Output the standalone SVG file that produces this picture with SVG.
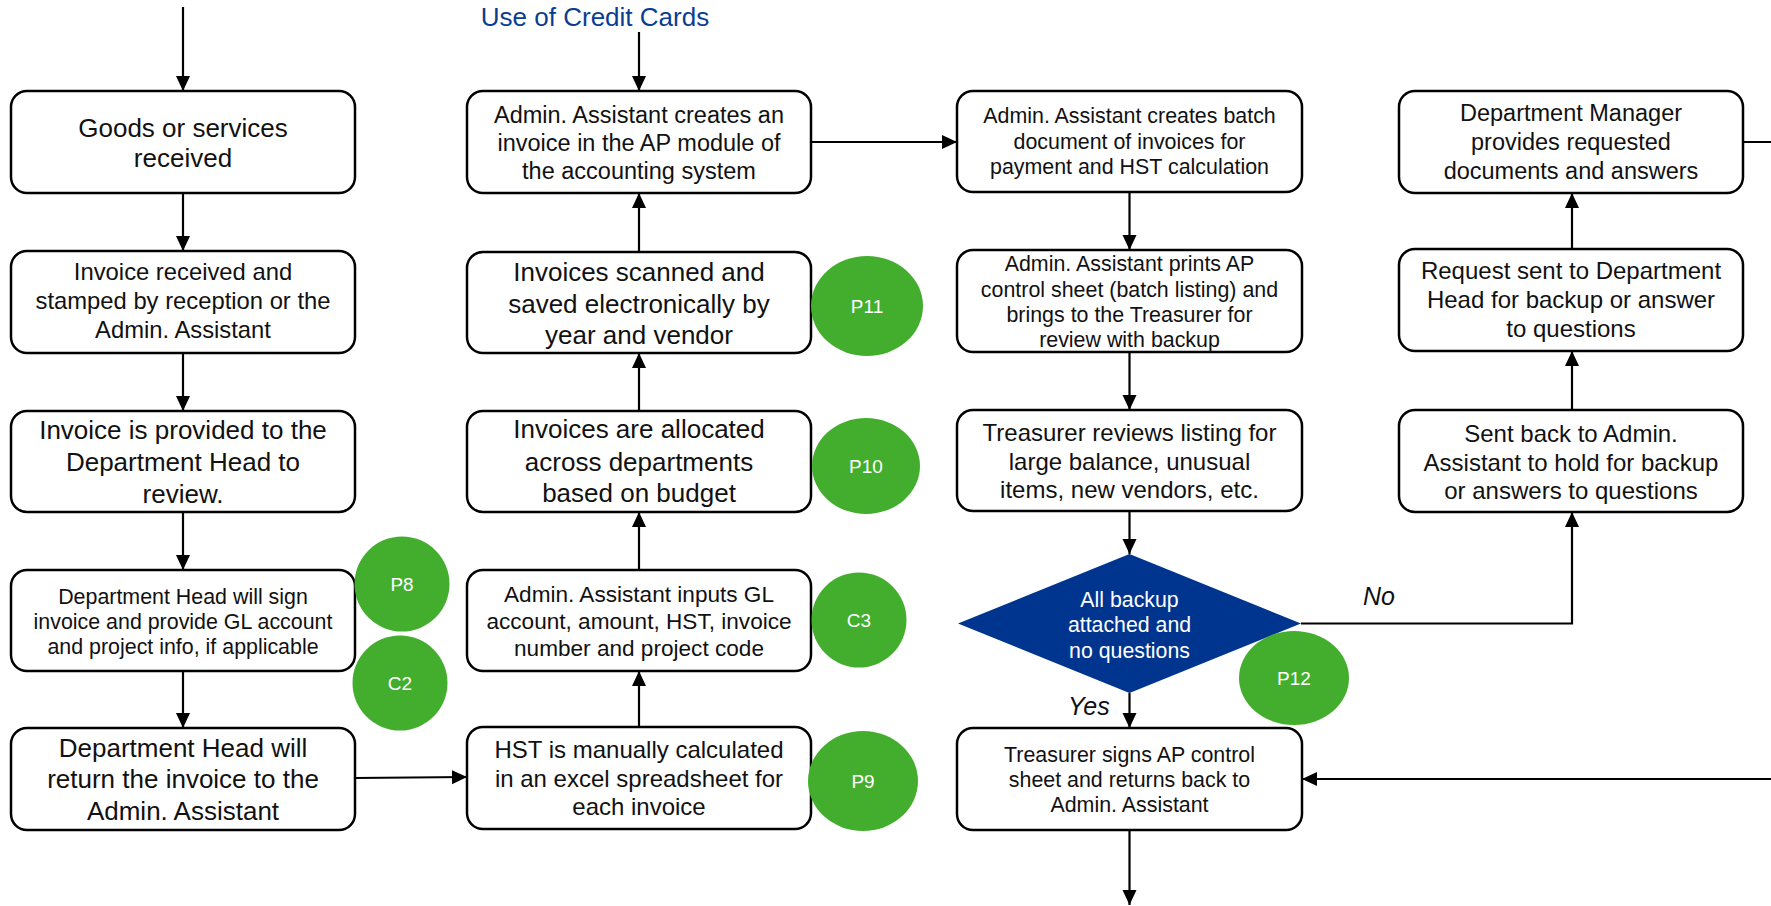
<svg xmlns="http://www.w3.org/2000/svg" width="1771" height="906" viewBox="0 0 1771 906">
  <style>
    .box { fill: #ffffff; stroke: #000000; stroke-width: 2.5; }
    .lbl { font-family: "Liberation Sans", Arial, sans-serif; fill: #111111; text-anchor: middle; }
    .tag { fill: #43ae2e; }
    .tagtxt { font-family: "Liberation Sans", Arial, sans-serif; fill: #ffffff; font-size: 19px; text-anchor: middle; }
    .edge { fill: none; stroke: #000000; stroke-width: 2.2; }
    .note { font-family: "Liberation Sans", Arial, sans-serif; font-style: italic; font-size: 25px; fill: #111111; }
  </style>
  <defs>
    <marker id="arrow" markerUnits="userSpaceOnUse" markerWidth="16" markerHeight="16" refX="15" refY="7" orient="auto">
      <path d="M0,0 L15,7 L0,14 Z" fill="#000000"/>
    </marker>
  </defs>

  <rect width="1771" height="906" fill="#ffffff"/>

  <text x="595" y="26" font-family="Liberation Sans, Arial, sans-serif" font-size="26" fill="#0a3d91" text-anchor="middle">Use of Credit Cards</text>

  <!-- connectors -->
  <g id="connectors">
    <path class="edge" d="M183,7 V91" marker-end="url(#arrow)"/>
    <path class="edge" d="M183,193 V251" marker-end="url(#arrow)"/>
    <path class="edge" d="M183,353 V411" marker-end="url(#arrow)"/>
    <path class="edge" d="M183,512 V570" marker-end="url(#arrow)"/>
    <path class="edge" d="M183,671 V728" marker-end="url(#arrow)"/>
    <path class="edge" d="M355,778 L467,777" marker-end="url(#arrow)"/>
    <path class="edge" d="M639,727 V671" marker-end="url(#arrow)"/>
    <path class="edge" d="M639,570 V512" marker-end="url(#arrow)"/>
    <path class="edge" d="M639,411 V353" marker-end="url(#arrow)"/>
    <path class="edge" d="M639,252 V193" marker-end="url(#arrow)"/>
    <path class="edge" d="M639,32 V91" marker-end="url(#arrow)"/>
    <path class="edge" d="M811,142 H957" marker-end="url(#arrow)"/>
    <path class="edge" d="M1129.5,192 V250" marker-end="url(#arrow)"/>
    <path class="edge" d="M1129.5,352 V410" marker-end="url(#arrow)"/>
    <path class="edge" d="M1129.5,511 V554" marker-end="url(#arrow)"/>
    <path class="edge" d="M1129.5,693 V728" marker-end="url(#arrow)"/>
    <path class="edge" d="M1129.5,830 V905" marker-end="url(#arrow)"/>
    <path class="edge" d="M1301,623.5 H1572 V512" marker-end="url(#arrow)"/>
    <path class="edge" d="M1572,410 V351" marker-end="url(#arrow)"/>
    <path class="edge" d="M1572,249 V193" marker-end="url(#arrow)"/>
    <path class="edge" d="M1743,142 H1780 V779 H1302" marker-end="url(#arrow)"/>
    <text class="note" x="1363" y="605">No</text>
    <text class="note" x="1068" y="715">Yes</text>
  </g>

  <!-- column 1 -->
  <g id="goods-received">
    <rect class="box" x="11" y="91" width="344" height="102" rx="16"/>
    <text class="lbl" font-size="26"><tspan x="183" y="137">Goods or services</tspan><tspan x="183" y="167">received</tspan></text>
  </g>
  <g id="invoice-stamped">
    <rect class="box" x="11" y="251" width="344" height="102" rx="16"/>
    <text class="lbl" font-size="23.8"><tspan x="183" y="280">Invoice received and</tspan><tspan x="183" y="309">stamped by reception or the</tspan><tspan x="183" y="338">Admin. Assistant</tspan></text>
  </g>
  <g id="to-dept-head">
    <rect class="box" x="11" y="411" width="344" height="101" rx="16"/>
    <text class="lbl" font-size="26"><tspan x="183" y="439">Invoice is provided to the</tspan><tspan x="183" y="471">Department Head to</tspan><tspan x="183" y="503">review.</tspan></text>
  </g>
  <g id="dept-head-signs">
    <rect class="box" x="11" y="570" width="344" height="101" rx="16"/>
    <text class="lbl" font-size="21.4"><tspan x="183" y="604">Department Head will sign</tspan><tspan x="183" y="629">invoice and provide GL account</tspan><tspan x="183" y="654">and project info, if applicable</tspan></text>
  </g>
  <g id="dept-head-returns">
    <rect class="box" x="11" y="728" width="344" height="102" rx="16"/>
    <text class="lbl" font-size="26"><tspan x="183" y="757">Department Head will</tspan><tspan x="183" y="788">return the invoice to the</tspan><tspan x="183" y="820">Admin. Assistant</tspan></text>
  </g>

  <!-- column 2 -->
  <g id="ap-invoice">
    <rect class="box" x="467" y="91" width="344" height="102" rx="16"/>
    <text class="lbl" font-size="23.5"><tspan x="639" y="123">Admin. Assistant creates an</tspan><tspan x="639" y="151">invoice in the AP module of</tspan><tspan x="639" y="179">the accounting system</tspan></text>
  </g>
  <g id="scanned">
    <rect class="box" x="467" y="252" width="344" height="101" rx="16"/>
    <text class="lbl" font-size="26"><tspan x="639" y="281">Invoices scanned and</tspan><tspan x="639" y="313">saved electronically by</tspan><tspan x="639" y="344">year and vendor</tspan></text>
  </g>
  <g id="allocated">
    <rect class="box" x="467" y="411" width="344" height="101" rx="16"/>
    <text class="lbl" font-size="26"><tspan x="639" y="438">Invoices are allocated</tspan><tspan x="639" y="471">across departments</tspan><tspan x="639" y="502">based on budget</tspan></text>
  </g>
  <g id="inputs-gl">
    <rect class="box" x="467" y="570" width="344" height="101" rx="16"/>
    <text class="lbl" font-size="22.6"><tspan x="639" y="602">Admin. Assistant inputs GL</tspan><tspan x="639" y="629">account, amount, HST, invoice</tspan><tspan x="639" y="656">number and project code</tspan></text>
  </g>
  <g id="hst-calc">
    <rect class="box" x="467" y="727" width="344" height="102" rx="16"/>
    <text class="lbl" font-size="24"><tspan x="639" y="758">HST is manually calculated</tspan><tspan x="639" y="787">in an excel spreadsheet for</tspan><tspan x="639" y="815">each invoice</tspan></text>
  </g>

  <!-- column 3 -->
  <g id="batch">
    <rect class="box" x="957" y="91" width="345" height="101" rx="16"/>
    <text class="lbl" font-size="21.4"><tspan x="1129.5" y="123">Admin. Assistant creates batch</tspan><tspan x="1129.5" y="149">document of invoices for</tspan><tspan x="1129.5" y="174">payment and HST calculation</tspan></text>
  </g>
  <g id="control-sheet">
    <rect class="box" x="957" y="250" width="345" height="102" rx="16"/>
    <text class="lbl" font-size="21.4"><tspan x="1129.5" y="271">Admin. Assistant prints AP</tspan><tspan x="1129.5" y="297">control sheet (batch listing) and</tspan><tspan x="1129.5" y="322">brings to the Treasurer for</tspan><tspan x="1129.5" y="347">review with backup</tspan></text>
  </g>
  <g id="treasurer-review">
    <rect class="box" x="957" y="410" width="345" height="101" rx="16"/>
    <text class="lbl" font-size="24"><tspan x="1129.5" y="441">Treasurer reviews listing for</tspan><tspan x="1129.5" y="470">large balance, unusual</tspan><tspan x="1129.5" y="498">items, new vendors, etc.</tspan></text>
  </g>
  <g id="backup-check">
    <polygon points="1129.5,554 1301,623.5 1129.5,693 958,623.5" fill="#00358f"/>
    <text class="lbl" font-size="21.3" style="fill:#ffffff"><tspan x="1129.5" y="607">All backup</tspan><tspan x="1129.5" y="632">attached and</tspan><tspan x="1129.5" y="658">no questions</tspan></text>
  </g>
  <g id="treasurer-signs">
    <rect class="box" x="957" y="728" width="345" height="102" rx="16"/>
    <text class="lbl" font-size="21.4"><tspan x="1129.5" y="762">Treasurer signs AP control</tspan><tspan x="1129.5" y="787">sheet and returns back to</tspan><tspan x="1129.5" y="812">Admin. Assistant</tspan></text>
  </g>

  <!-- column 4 -->
  <g id="manager-provides">
    <rect class="box" x="1399" y="91" width="344" height="102" rx="16"/>
    <text class="lbl" font-size="23.5"><tspan x="1571" y="121">Department Manager</tspan><tspan x="1571" y="150">provides requested</tspan><tspan x="1571" y="179">documents and answers</tspan></text>
  </g>
  <g id="request-sent">
    <rect class="box" x="1399" y="249" width="344" height="102" rx="16"/>
    <text class="lbl" font-size="24"><tspan x="1571" y="279">Request sent to Department</tspan><tspan x="1571" y="308">Head for backup or answer</tspan><tspan x="1571" y="337">to questions</tspan></text>
  </g>
  <g id="hold">
    <rect class="box" x="1399" y="410" width="344" height="102" rx="16"/>
    <text class="lbl" font-size="24"><tspan x="1571" y="442">Sent back to Admin.</tspan><tspan x="1571" y="471">Assistant to hold for backup</tspan><tspan x="1571" y="499">or answers to questions</tspan></text>
  </g>

  <!-- control / process tags -->
  <g id="tag-p8"><ellipse class="tag" cx="402" cy="584" rx="47.5" ry="47.5"/><text class="tagtxt" x="402" y="591">P8</text></g>
  <g id="tag-c2"><ellipse class="tag" cx="400" cy="683" rx="47.5" ry="47.5"/><text class="tagtxt" x="400" y="690">C2</text></g>
  <g id="tag-p11"><ellipse class="tag" cx="867" cy="306" rx="56" ry="50"/><text class="tagtxt" x="867" y="313">P11</text></g>
  <g id="tag-p10"><ellipse class="tag" cx="866" cy="466" rx="54" ry="48"/><text class="tagtxt" x="866" y="473">P10</text></g>
  <g id="tag-c3"><ellipse class="tag" cx="859" cy="620" rx="47.5" ry="47.5"/><text class="tagtxt" x="859" y="627">C3</text></g>
  <g id="tag-p9"><ellipse class="tag" cx="863" cy="781" rx="55" ry="50"/><text class="tagtxt" x="863" y="788">P9</text></g>
  <g id="tag-p12"><ellipse class="tag" cx="1294" cy="678" rx="55" ry="47"/><text class="tagtxt" x="1294" y="685">P12</text></g>
</svg>
